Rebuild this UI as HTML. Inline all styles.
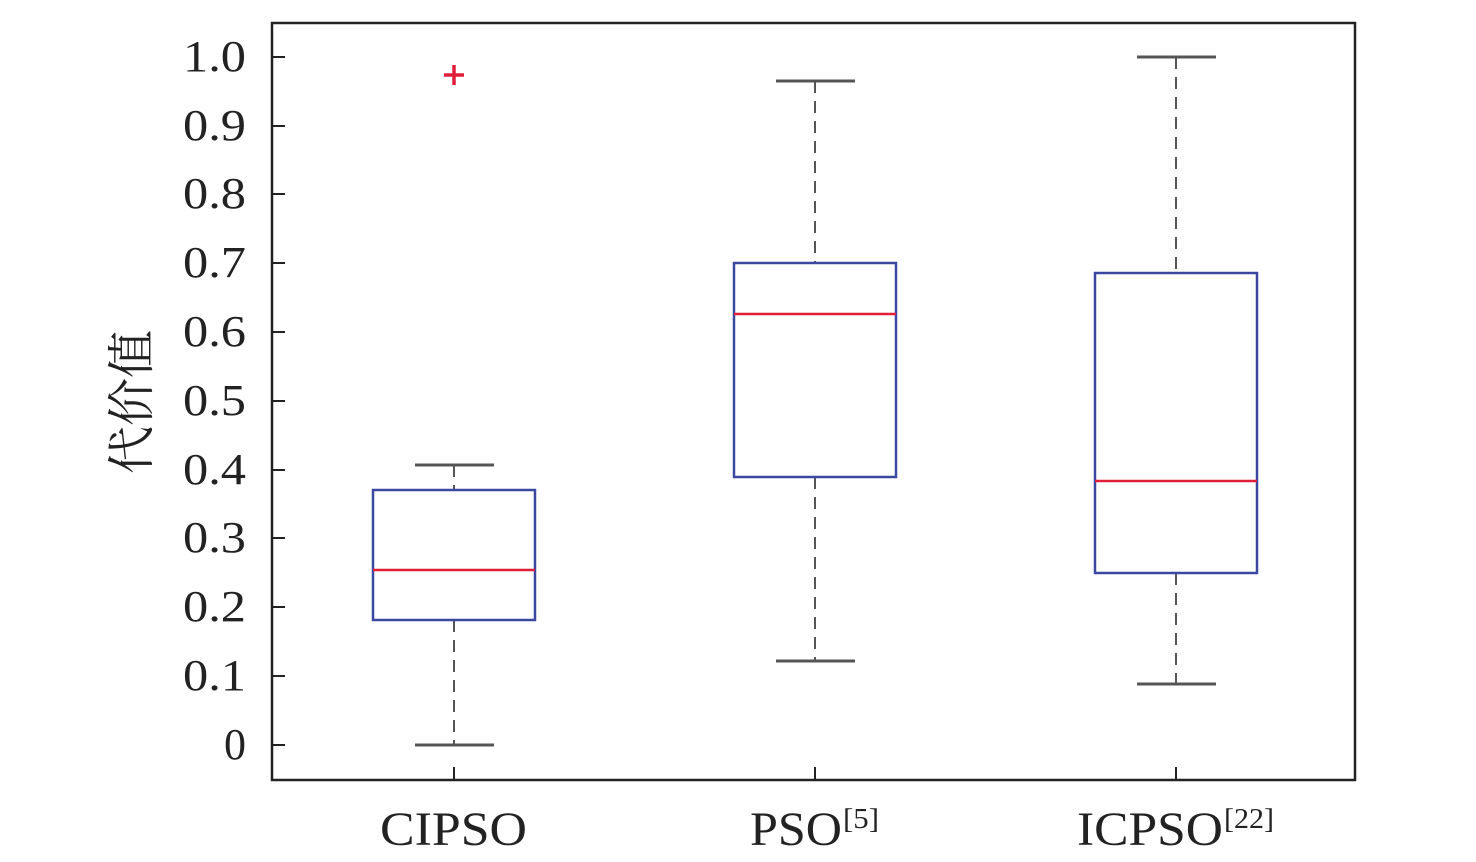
<!DOCTYPE html>
<html><head><meta charset="utf-8"><style>
html,body{margin:0;padding:0;background:#fff;}
</style></head><body>
<svg width="1476" height="862" xmlns="http://www.w3.org/2000/svg" style="display:block">
<rect x="272" y="23" width="1083" height="757" fill="none" stroke="#222" stroke-width="2.5"/>
<g stroke="#222" stroke-width="2">
<line x1="272" y1="57" x2="285" y2="57"/><line x1="272" y1="126" x2="285" y2="126"/><line x1="272" y1="194" x2="285" y2="194"/><line x1="272" y1="263" x2="285" y2="263"/><line x1="272" y1="332" x2="285" y2="332"/><line x1="272" y1="401" x2="285" y2="401"/><line x1="272" y1="470" x2="285" y2="470"/><line x1="272" y1="538" x2="285" y2="538"/><line x1="272" y1="607" x2="285" y2="607"/><line x1="272" y1="676" x2="285" y2="676"/><line x1="272" y1="745" x2="285" y2="745"/>
<line x1="454" y1="780" x2="454" y2="767"/><line x1="815" y1="780" x2="815" y2="767"/><line x1="1176" y1="780" x2="1176" y2="767"/>
</g>
<g font-family="Liberation Serif, serif" font-size="44" fill="#222" text-anchor="end">
<text x="246" y="71" textLength="63" lengthAdjust="spacingAndGlyphs">1.0</text><text x="246" y="140" textLength="63" lengthAdjust="spacingAndGlyphs">0.9</text><text x="246" y="208" textLength="63" lengthAdjust="spacingAndGlyphs">0.8</text><text x="246" y="277" textLength="63" lengthAdjust="spacingAndGlyphs">0.7</text><text x="246" y="346" textLength="63" lengthAdjust="spacingAndGlyphs">0.6</text><text x="246" y="415" textLength="63" lengthAdjust="spacingAndGlyphs">0.5</text><text x="246" y="484" textLength="63" lengthAdjust="spacingAndGlyphs">0.4</text><text x="246" y="552" textLength="63" lengthAdjust="spacingAndGlyphs">0.3</text><text x="246" y="621" textLength="63" lengthAdjust="spacingAndGlyphs">0.2</text><text x="246" y="690" textLength="63" lengthAdjust="spacingAndGlyphs">0.1</text><text x="246" y="759">0</text>
</g>
<text transform="translate(148,402) rotate(-90)" font-family="Liberation Serif, 'Noto Serif CJK SC', serif" font-size="48" fill="#222" text-anchor="middle">代价值</text>
<g font-family="Liberation Serif, serif" font-size="48" fill="#222">
<text x="380" y="845" textLength="147" lengthAdjust="spacingAndGlyphs">CIPSO</text>
<text x="750" y="845" textLength="92" lengthAdjust="spacingAndGlyphs">PSO</text>
<text x="843" y="828" font-size="28" textLength="36" lengthAdjust="spacingAndGlyphs">[5]</text>
<text x="1077" y="845" textLength="146" lengthAdjust="spacingAndGlyphs">ICPSO</text>
<text x="1224" y="828" font-size="28" textLength="50" lengthAdjust="spacingAndGlyphs">[22]</text>
</g>
<g stroke="#555" stroke-width="2" stroke-dasharray="12,8">
<line x1="454" y1="465" x2="454" y2="490"/><line x1="454" y1="620" x2="454" y2="745"/>
<line x1="815" y1="81" x2="815" y2="263"/><line x1="815" y1="477" x2="815" y2="661"/>
<line x1="1176" y1="57" x2="1176" y2="273"/><line x1="1176" y1="573" x2="1176" y2="684"/>
</g>
<g stroke="#555" stroke-width="3">
<line x1="415" y1="465" x2="494" y2="465"/><line x1="415" y1="745" x2="494" y2="745"/>
<line x1="776" y1="81" x2="855" y2="81"/><line x1="776" y1="661" x2="855" y2="661"/>
<line x1="1137" y1="57" x2="1216" y2="57"/><line x1="1137" y1="684" x2="1216" y2="684"/>
</g>
<g fill="none" stroke="#3a48a0" stroke-width="2.5">
<rect x="373" y="490" width="162" height="130"/>
<rect x="734" y="263" width="162" height="214"/>
<rect x="1095" y="273" width="162" height="300"/>
</g>
<g stroke="#e0203a" stroke-width="2.5">
<line x1="373" y1="570" x2="535" y2="570"/>
<line x1="734" y1="314" x2="896" y2="314"/>
<line x1="1095" y1="481" x2="1257" y2="481"/>
</g>
<g stroke="#e0203a" stroke-width="3.5">
<line x1="444" y1="75" x2="464" y2="75"/><line x1="454" y1="65" x2="454" y2="85"/>
</g>
</svg>
</body></html>
